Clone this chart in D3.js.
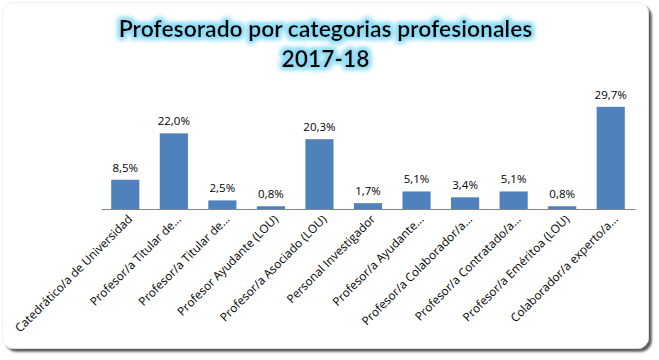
<!DOCTYPE html>
<html><head><meta charset="utf-8">
<script src="https://cdn.jsdelivr.net/npm/d3@7"></script>
<style>html,body{margin:0;padding:0;background:#fff;}svg{display:block;}</style>
</head><body>
<svg id="chart" width="659" height="360"></svg>
<script>
const titleLines = ["Profesorado por categorias profesionales", "2017-18"];
const categories = [
  "Catedrático/a de Universidad",
  "Profesor/a Titular de...",
  "Profesor/a Titular de...",
  "Profesor Ayudante (LOU)",
  "Profesor/a Asociado (LOU)",
  "Personal Investigador",
  "Profesor/a Ayudante...",
  "Profesor/a Colaborador/a...",
  "Profesor/a Contratado/a...",
  "Profesor/a Eméritoa (LOU)",
  "Colaborador/a experto/a..."
];
const values = [8.5, 22.0, 2.5, 0.8, 20.3, 1.7, 5.1, 3.4, 5.1, 0.8, 29.7];
const yDomain = [0, 35];

const svg = d3.select("#chart");
const defs = svg.append("defs");
const sh = defs.append("filter").attr("id","cardShadow").attr("x","-5%").attr("y","-5%").attr("width","115%").attr("height","115%");
sh.append("feGaussianBlur").attr("in","SourceAlpha").attr("stdDeviation",1.2).attr("result","b");
sh.append("feOffset").attr("in","b").attr("dx",3).attr("dy",3).attr("result","o");
sh.append("feComponentTransfer").attr("in","o").attr("result","o2").append("feFuncA").attr("type","linear").attr("slope",0.65);
const m1 = sh.append("feMerge"); m1.append("feMergeNode").attr("in","o2"); m1.append("feMergeNode").attr("in","SourceGraphic");

const glow = defs.append("filter").attr("id","glow").attr("x","-10%").attr("y","-40%").attr("width","120%").attr("height","180%");
glow.append("feMorphology").attr("in","SourceAlpha").attr("operator","dilate").attr("radius",2).attr("result","d");
glow.append("feGaussianBlur").attr("in","d").attr("stdDeviation",2.5).attr("result","b");
glow.append("feFlood").attr("flood-color","#8fdcf5").attr("result","c");
glow.append("feComposite").attr("in","c").attr("in2","b").attr("operator","in").attr("result","g");
const gm = glow.append("feMerge"); gm.append("feMergeNode").attr("in","g"); gm.append("feMergeNode").attr("in","g"); gm.append("feMergeNode").attr("in","SourceGraphic");

svg.append("rect").attr("x",2.5).attr("y",2.5).attr("width",646).attr("height",346).attr("rx",11)
  .attr("fill","#fff").attr("stroke","#e6e6e6").attr("stroke-width",0.6).attr("filter","url(#cardShadow)");

const title = svg.append("text").attr("text-anchor","middle").attr("font-family","Lato, 'Open Sans', sans-serif")
  .attr("font-weight","bold").attr("font-size",22.8).attr("fill","#000").attr("filter","url(#glow)");
titleLines.forEach((t,i)=>title.append("tspan").attr("x",325.5).attr("y",37+i*29.5).text(t));

const x = d3.scaleBand().domain(d3.range(categories.length)).range([101,635]).paddingInner(0.42).paddingOuter(0.21);
const y = d3.scaleLinear().domain(yDomain).range([209, 88.6]);

svg.append("g").selectAll("rect").data(values).join("rect")
  .attr("x",(d,i)=>x(i)).attr("width",x.bandwidth())
  .attr("y",d=>y(d)).attr("height",d=>y(0)-y(d)).attr("fill","#4f81bd");

svg.append("g").selectAll("text").data(values).join("text")
  .attr("x",(d,i)=>x(i)+x.bandwidth()/2).attr("y",d=>y(d)-8)
  .attr("text-anchor","middle").attr("font-family","'Open Sans', sans-serif").attr("font-size",11.5).attr("fill","#000")
  .text(d=>d.toFixed(1).replace(".",",")+"%");

const xAxis = d3.axisBottom(x).tickSize(0).tickFormat(i=>categories[i]);
const ax = svg.append("g").attr("transform",`translate(0,${y(0)})`).call(xAxis);
ax.select(".domain").attr("stroke","#868686").attr("stroke-width",1);
ax.selectAll("text").attr("font-family","'Open Sans', sans-serif").attr("font-size",11.8).attr("fill","#000")
  .attr("text-anchor","end").attr("transform","translate(5,8) rotate(-45)").attr("dy","0.35em").attr("y",0).attr("x",0);
</script>
</body></html>
